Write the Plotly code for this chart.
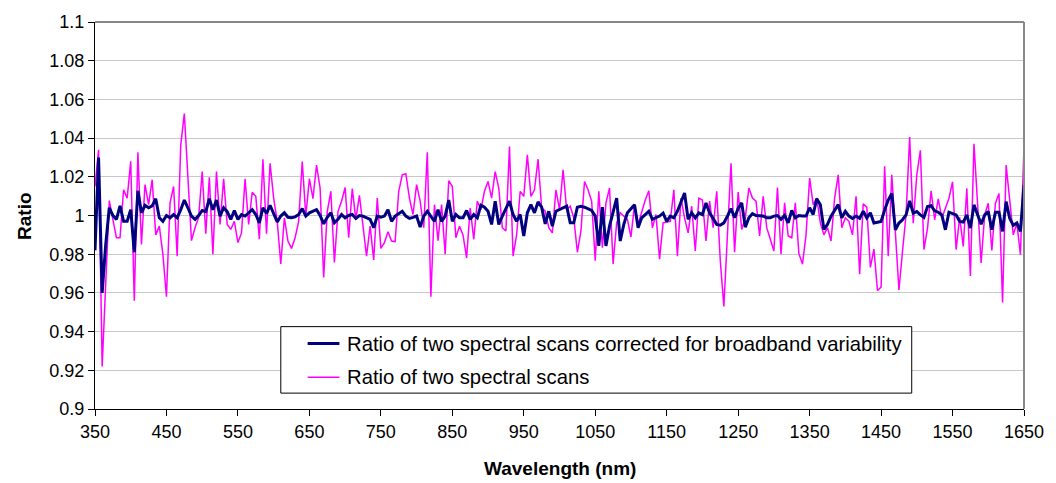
import plotly.graph_objects as go

# Wavelength grid (nm), 5 nm step from 350 to 1650
wavelengths = list(range(350, 1651, 5))

# Ratio of two spectral scans (magenta)
ratio_raw = [
    1.015, 1.034, 0.922, 0.965, 1.0077, 0.998, 0.9885, 0.9885, 1.0133, 1.009,
    1.028, 0.956, 1.0327, 0.985, 1.016, 1.0056, 1.0185, 0.990, 0.9945, 0.980,
    0.958, 1.0065, 1.015, 0.979, 1.0364, 1.0527, 1.022, 0.987, 0.9937, 0.999,
    1.0227, 0.9906, 1.0197, 0.980, 1.0227, 0.9954, 1.019, 0.9954, 0.9928, 0.997,
    0.986, 0.991, 1.019,
    0.9954, 1.012, 1.0099, 0.9877, 1.029, 0.9906, 1.027, 1.009, 0.997, 0.975,
    0.9988, 0.9868, 0.983, 0.9885, 0.997, 1.0279, 0.9997, 1.019, 1.0087, 1.026,
    1.0142, 0.968, 1.002, 1.0125, 0.9757, 1.002, 1.0074, 1.0145, 0.9885, 1.0139,
    0.998, 1.0104, 0.9954, 0.979, 0.9945, 0.977, 1.009, 0.983, 0.986, 0.9916,
    0.9868, 0.9865, 1.0125,
    1.021, 1.0216, 1.009, 1.0005, 1.016, 1.0074, 0.9937, 1.0327, 0.958, 1.0056,
    0.987, 1.0056, 0.980, 1.018, 1.015, 0.9885, 0.9945, 0.990, 0.978, 1.0039,
    0.9877, 1.0074, 1.003, 1.0125, 1.0176, 1.009, 1.0227, 1.0142, 0.9937, 0.992,
    1.0356, 0.979, 0.990, 1.0125, 1.0099, 1.0313, 1.0099, 1.0133, 1.0291, 1.004,
    1.0022, 0.9937,
    0.991, 1.0133, 1.003, 1.0236, 1.003, 1.0048, 0.9988, 0.981, 0.992, 1.0176,
    1.0133, 1.0074, 0.9766, 1.0125, 0.9834, 1.0065, 1.0142, 0.975, 0.9962, 1.0014,
    0.9997, 0.998, 0.9889, 1.0056, 0.9954, 1.0022, 1.008, 1.0128, 0.9937, 1.0005,
    0.9774, 0.9962, 0.9967, 0.997, 1.0133, 0.979, 1.009, 0.9988, 0.991, 1.0048,
    0.9817, 1.009, 1.008,
    0.9868, 1.0074, 0.9937, 1.0125, 0.9766, 0.953, 0.990, 1.027, 0.981, 1.0121,
    0.9928, 0.9988, 1.0142, 1.009, 1.0074, 0.9894, 1.0099, 0.9937, 0.9877, 0.9817,
    1.0145, 0.980, 1.0065, 0.9894, 0.9885, 1.0065, 0.9803, 0.9749, 0.990, 1.0193,
    1.0056, 1.009, 0.9962, 0.990, 0.9937, 0.9868, 1.009, 1.021, 0.9937, 0.9988,
    0.997, 0.990, 1.0099,
    0.9697, 1.006, 1.0043, 0.9732, 0.9826, 0.9612, 0.963, 1.0255, 0.979, 1.021,
    0.993, 0.9615, 0.9815, 1.0005, 1.0405, 0.996, 1.021, 1.0337, 0.9824, 0.9935,
    1.0127, 0.9978, 1.0086, 0.9986, 1.0038, 1.0089, 1.0174, 0.9824, 0.999, 0.984,
    1.014, 0.9687, 1.0371, 1.0038, 0.9755, 1.0005, 1.0063, 0.9819, 1.0063, 1.0114,
    0.955, 1.026, 1.0072, 0.990, 0.996, 0.9798, 1.0354,
]

# Ratio corrected for broadband variability (navy)
ratio_corrected = [
    0.982, 1.030, 0.960, 0.985, 1.004, 1.0, 0.998, 1.005, 0.997, 0.997,
    1.003, 0.981, 1.0128, 1.0014, 1.0053, 1.004, 1.005, 1.0087, 0.9988, 0.997,
    1.0, 0.9988, 1.0005, 0.9988, 1.003, 1.008, 1.004, 0.9997, 0.998, 1.0,
    1.0026, 1.002, 1.0087, 1.003, 1.008, 0.9997, 1.004, 1.002, 0.998, 1.0026,
    0.998, 1.0005, 0.9997,
    1.0014, 1.003, 1.0005, 0.9962, 1.004, 1.001, 1.0053, 1.0014, 0.9967, 0.9997,
    1.0014, 0.9991, 0.9988, 0.9993, 1.0005, 1.0036, 0.9997, 1.0014, 1.0022, 1.003,
    1.0, 0.9957, 0.9991, 1.0014, 0.9962, 0.998, 1.0005, 0.9988, 1.0, 1.0005,
    0.9985, 1.0, 0.9997, 0.9988, 0.998, 0.9937, 0.9997, 0.9991, 0.9997, 1.003,
    0.997, 0.9997, 1.001,
    1.0022, 0.9997, 0.9985, 0.999, 0.9997, 0.994, 0.9997, 1.0022, 0.9997, 0.997,
    1.003, 0.997, 0.9997, 1.008, 0.997, 1.0005, 0.9988, 0.9988, 1.0026, 0.998,
    1.0005, 0.9988, 1.0053, 1.0043, 1.0022, 0.9954, 1.0074, 0.9954, 0.9997, 1.0036,
    1.0074, 1.0005, 0.997, 1.0005, 0.9894, 1.0014, 1.0056, 1.0014, 1.007, 1.0043,
    0.9957, 1.0022,
    0.9945, 1.0022, 1.003, 1.004, 1.0048, 0.9962, 0.9962, 1.0043, 1.0048, 1.0043,
    1.0036, 1.0026, 0.9997, 0.9843, 1.0043, 0.9843, 0.9945, 1.0022, 1.009, 0.9868,
    0.9954, 1.0014, 1.0036, 1.0056, 0.9937, 0.9988, 1.0005, 1.0022, 0.998, 0.9988,
    0.9997, 1.0012, 0.997, 0.9997, 0.9988, 1.0022, 1.0074, 1.0116, 0.998, 1.0014,
    0.9988, 1.0014, 1.0005,
    1.0065, 1.0014, 0.998, 0.9954, 0.995, 0.9962, 0.9997, 1.0036, 0.9988, 1.0036,
    1.0065, 0.994, 0.9988, 1.001, 1.0, 0.9997, 0.9997, 0.9988, 0.9988, 0.9997,
    1.0, 0.998, 1.0, 0.9962, 1.0026, 0.9988, 1.0, 0.9997, 0.9997, 1.004,
    1.0005, 1.0087, 1.0056, 0.9928, 0.9954, 0.9997, 1.003, 1.0056, 0.9988, 1.0022,
    0.9997, 0.9985, 0.9997,
    0.9985, 1.0022, 0.9988, 1.0014, 0.9961, 0.9965, 0.9969, 1.0029, 1.008, 1.0114,
    0.9926, 0.9961, 0.9978, 1.0003, 1.0075, 1.0012, 1.002, 1.0003, 0.999, 1.0046,
    1.0051, 1.0024, 1.0017, 1.0003, 0.9926, 1.0017, 1.0012, 1.0003, 0.9969, 0.9966,
    1.0003, 0.9935, 1.0055, 1.0003, 0.9955, 1.0003, 1.002, 0.9926, 1.0017, 1.0017,
    0.9918, 1.0072, 0.9986, 0.9949, 0.9961, 0.9918, 1.0157,
]

x_ticks = list(range(350, 1651, 100))
y_ticks = [0.9, 0.92, 0.94, 0.96, 0.98, 1.0, 1.02, 1.04, 1.06, 1.08, 1.1]
y_tick_text = ["0.9", "0.92", "0.94", "0.96", "0.98", "1", "1.02", "1.04", "1.06", "1.08", "1.1"]

name_corr = "Ratio of two spectral scans corrected for broadband variability"
name_raw = "Ratio of two spectral scans"
color_corr = "#000080"
color_raw = "#FF00FF"

FONT = "Liberation Sans, Arial, sans-serif"

# figure geometry (pixels) used to place the hand-drawn legend
W, H = 1056, 483
ML, MR, MT, MB = 95, 26, 19, 74
PW, PH = W - ML - MR, H - MT - MB


def px(x):
    return (x - ML) / PW


def py(y):
    return (H - MB - y) / PH


fig = go.Figure()
fig.add_trace(go.Scatter(
    x=wavelengths, y=ratio_raw, mode="lines", name=name_raw,
    line=dict(color=color_raw, width=1.5), showlegend=False,
))
fig.add_trace(go.Scatter(
    x=wavelengths, y=ratio_corrected, mode="lines", name=name_corr,
    line=dict(color=color_corr, width=3), showlegend=False,
))

shapes = [
    dict(type="line", xref="paper", yref="paper", x0=0, x1=1, y0=1, y1=1,
         line=dict(color="#888888", width=2)),
    dict(type="line", xref="paper", yref="paper", x0=1, x1=1, y0=0, y1=1,
         line=dict(color="#888888", width=2)),
    # legend box
    dict(type="rect", xref="paper", yref="paper",
         x0=px(282), x1=px(917), y0=py(393), y1=py(326),
         line=dict(color="black", width=1), fillcolor="white", layer="above"),
    dict(type="line", xref="paper", yref="paper",
         x0=px(309), x1=px(341), y0=py(343), y1=py(343),
         line=dict(color=color_corr, width=3), layer="above"),
    dict(type="line", xref="paper", yref="paper",
         x0=px(309), x1=px(341), y0=py(377), y1=py(377),
         line=dict(color=color_raw, width=1.5), layer="above"),
]

annotations = [
    dict(text=name_corr, xref="paper", yref="paper", x=px(347), y=py(343),
         xanchor="left", yanchor="middle", showarrow=False,
         font=dict(family=FONT, size=20.3, color="black")),
    dict(text=name_raw, xref="paper", yref="paper", x=px(347), y=py(377),
         xanchor="left", yanchor="middle", showarrow=False,
         font=dict(family=FONT, size=20.3, color="black")),
    dict(text="<b>Wavelength (nm)</b>", xref="paper", yref="paper",
         x=0.5, y=py(469), xanchor="center", yanchor="middle", showarrow=False,
         font=dict(family=FONT, size=19, color="black")),
    dict(text="<b>Ratio</b>", xref="paper", yref="paper",
         x=px(24), y=0.5, xanchor="center", yanchor="middle", showarrow=False,
         textangle=-90, font=dict(family=FONT, size=19, color="black")),
]

fig.update_layout(
    width=W, height=H,
    margin=dict(l=ML, r=MR, t=MT, b=MB),
    paper_bgcolor="white", plot_bgcolor="white",
    font=dict(family=FONT, size=18, color="black"),
    showlegend=False,
    xaxis=dict(
        range=[350, 1650], tickvals=x_ticks, ticks="outside", ticklen=6,
        tickcolor="black", showline=True, linecolor="black", linewidth=1,
        showgrid=False, zeroline=False,
        tickfont=dict(family=FONT, size=18, color="black"),
    ),
    yaxis=dict(
        range=[0.9, 1.1], tickvals=y_ticks, ticktext=y_tick_text,
        ticks="outside", ticklen=6, tickcolor="black",
        showline=True, linecolor="black", linewidth=1,
        showgrid=True, gridcolor="#C8C8C8", gridwidth=1, zeroline=False,
        tickfont=dict(family=FONT, size=18, color="black"),
    ),
    shapes=shapes,
    annotations=annotations,
)

fig.write_html(
    "out.html",
    config={"displayModeBar": False},
    post_script="document.body.style.margin='0';document.body.style.overflow='hidden';",
)
